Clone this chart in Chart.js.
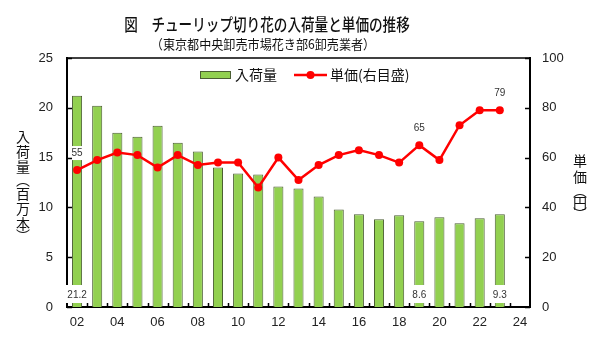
<!DOCTYPE html>
<html><head><meta charset="utf-8">
<script src="https://cdn.jsdelivr.net/npm/chart.js@4.4.1/dist/chart.umd.min.js"></script>
<style>html,body{margin:0;padding:0;background:#fff}#wrap{width:600px;height:345px}</style>
</head><body><div id="wrap"><canvas id="c" width="600" height="345"></canvas></div>
<script>
const years = ['02','03','04','05','06','07','08','09','10','11','12','13','14','15','16','17','18','19','20','21','22','23','24'];
const arrivals = [21.2,20.2,17.5,17.1,18.2,16.5,15.6,14.0,13.4,13.3,12.1,11.9,11.1,9.8,9.3,8.8,9.2,8.6,9.0,8.4,8.9,9.3,null];
const prices = [55,59,62,61,56,61,57,58,58,48,60,51,57,61,63,61,58,65,59,73,79,79,null];
const leftTicks = [0,5,10,15,20,25];
const rightTicks = [0,20,40,60,80,100];
const labeledIdx = [0,17,21];
const titleText = '図　チューリップ切り花の入荷量と単価の推移';
const subtitleText = '（東京都中央卸売市場花き部6卸売業者）';
const barName = '入荷量';
const lineName = '単価(右目盛)';
const leftTitle = ['入','荷','量','︵','百','万','本','︶'];
const rightTitle = ['単','価','︵','円','︶'];

const JP = '"Noto Sans CJK JP", sans-serif';
const NUM = '"Liberation Sans", Arial, sans-serif';
const BAR_FILL = '#92D050', BAR_EDGE = '#4B5E33', RED = '#FF0000';

const deco = {
  id: 'deco',
  afterDatasetsDraw(chart) {
    const ctx = chart.ctx, ca = chart.chartArea;
    const x = chart.scales.x, y1 = chart.scales.y1;
    ctx.save();
    ctx.font = '10px ' + NUM;
    ctx.textAlign = 'center'; ctx.textBaseline = 'middle';
    labeledIdx.forEach(i => {
      const bx = x.getPixelForValue(i);
      const bt = arrivals[i].toFixed(1);
      const bw = ctx.measureText(bt).width + 5;
      const by = ca.bottom - 13;
      ctx.fillStyle = '#fff';
      ctx.fillRect(bx - bw/2, by - 9, bw, 18);
      ctx.fillStyle = '#333';
      ctx.fillText(bt, bx, by + 1);
      const py = y1.getPixelForValue(prices[i]) - 17;
      const pt = String(prices[i]);
      const pw = ctx.measureText(pt).width + 4;
      ctx.fillStyle = '#fff';
      ctx.fillRect(bx - pw/2, py - 7, pw, 14);
      ctx.fillStyle = '#333';
      ctx.fillText(pt, bx, py);
    });
    ctx.restore();
  },
  afterDraw(chart) {
    const ctx = chart.ctx, ca = chart.chartArea;
    const x = chart.scales.x, y = chart.scales.y, y1 = chart.scales.y1;
    ctx.save();
    ctx.strokeStyle = '#000'; ctx.lineWidth = 1.5;
    ctx.beginPath(); ctx.moveTo(ca.left, ca.top); ctx.lineTo(ca.right, ca.top); ctx.stroke();
    ctx.beginPath();
    leftTicks.forEach(v => { const p = Math.round(y.getPixelForValue(v)) + 0.5; ctx.moveTo(ca.left, p); ctx.lineTo(ca.left + 5, p); });
    rightTicks.forEach(v => { const p = Math.round(y1.getPixelForValue(v)) + 0.5; ctx.moveTo(ca.right, p); ctx.lineTo(ca.right - 5, p); });
    for (let i = 1; i < years.length; i++) {
      const p = Math.round((x.getPixelForValue(i - 1) + x.getPixelForValue(i)) / 2) + 0.5;
      ctx.moveTo(p, ca.bottom); ctx.lineTo(p, ca.bottom - 4);
    }
    ctx.stroke();
    ctx.fillStyle = '#111';
    ctx.textAlign = 'center'; ctx.textBaseline = 'middle';
    ctx.save(); ctx.translate(267, 25); ctx.scale(0.8, 1);
    ctx.font = '500 17px ' + JP; ctx.fillText(titleText, 0, 0); ctx.restore();
    ctx.save(); ctx.translate(263, 44); ctx.scale(0.93, 1);
    ctx.font = '13px ' + JP; ctx.fillText(subtitleText, 0, 0); ctx.restore();
    ctx.font = '14px ' + JP;
    const ly = [137,152,167,180,194,209,224,236];
    leftTitle.forEach((c, i) => ctx.fillText(c, 23, ly[i]));
    const ry = [161,177,191,203,214];
    rightTitle.forEach((c, i) => ctx.fillText(c, 580, ry[i]));
    ctx.fillStyle = BAR_FILL; ctx.strokeStyle = BAR_EDGE; ctx.lineWidth = 1;
    ctx.fillRect(200.5, 71.5, 30, 7); ctx.strokeRect(200.5, 71.5, 30, 7);
    ctx.fillStyle = '#111'; ctx.textAlign = 'left';
    ctx.font = '14px ' + JP;
    ctx.fillText(barName, 235, 75);
    ctx.strokeStyle = RED; ctx.lineWidth = 2.5;
    ctx.beginPath(); ctx.moveTo(294, 75); ctx.lineTo(327, 75); ctx.stroke();
    ctx.fillStyle = RED; ctx.beginPath(); ctx.arc(310.5, 75, 4, 0, Math.PI * 2); ctx.fill();
    ctx.fillStyle = '#111';
    ctx.fillText(lineName, 330, 75);
    ctx.restore();
  }
};

new Chart(document.getElementById('c'), {
  data: {
    labels: years,
    datasets: [
      { type: 'line', label: lineName, data: prices, yAxisID: 'y1', order: 1,
        borderColor: RED, backgroundColor: RED, borderWidth: 2.5,
        pointRadius: 4, pointBackgroundColor: RED, pointBorderWidth: 0, tension: 0 },
      { type: 'bar', label: barName, data: arrivals, yAxisID: 'y', order: 2,
        backgroundColor: BAR_FILL, borderColor: BAR_EDGE, borderWidth: 1,
        barPercentage: 0.5, categoryPercentage: 1.0 }
    ]
  },
  options: {
    responsive: false, animation: false, devicePixelRatio: 1,
    layout: { padding: { top: 58, left: 0, right: 0, bottom: 0 } },
    plugins: { legend: { display: false }, tooltip: { enabled: false }, title: { display: false } },
    scales: {
      x: {
        type: 'category', offset: true,
        grid: { display: false, drawTicks: false },
        border: { display: true, color: '#000', width: 2 },
        ticks: { autoSkip: false, maxRotation: 0, padding: 8, color: '#222', font: { size: 13, family: NUM },
          callback: (v, i) => (i % 2 === 0 ? years[i] : '') },
        afterFit: s => { s.height = 38; }
      },
      y: {
        position: 'left', min: 0, max: 25,
        grid: { display: false, drawTicks: false },
        border: { display: true, color: '#000', width: 2 },
        afterBuildTicks: s => { s.ticks = leftTicks.map(v => ({ value: v })); },
        ticks: { padding: 14, color: '#222', font: { size: 13, family: NUM } },
        afterFit: s => { s.width = 67; }
      },
      y1: {
        position: 'right', min: 0, max: 100,
        grid: { display: false, drawTicks: false },
        border: { display: true, color: '#000', width: 2 },
        afterBuildTicks: s => { s.ticks = rightTicks.map(v => ({ value: v })); },
        ticks: { padding: 12, color: '#222', font: { size: 13, family: NUM } },
        afterFit: s => { s.width = 70; }
      }
    }
  },
  plugins: [deco]
});
</script></body></html>
